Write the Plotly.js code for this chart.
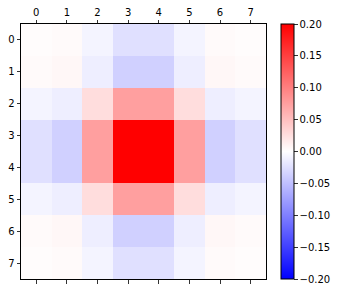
<!DOCTYPE html>
<html>
<head>
<meta charset="utf-8">
<script src="https://cdn.plot.ly/plotly-3.0.1.min.js"></script>
<style>html,body{margin:0;padding:0;background:#fff;}#chart{width:344px;height:293px;}</style>
</head>
<body>
<div id="chart"></div>
<script>
var xLabels = [0, 1, 2, 3, 4, 5, 6, 7];
var yLabels = [0, 1, 2, 3, 4, 5, 6, 7];
var row0 = [0.002, 0.004, -0.009, -0.024, -0.024, -0.009, 0.004, 0.002];
var row1 = [0.004, 0.006, -0.013, -0.037, -0.037, -0.013, 0.006, 0.004];
var row2 = [-0.009, -0.013, 0.027, 0.075, 0.075, 0.027, -0.013, -0.009];
var row3 = [-0.024, -0.037, 0.075, 0.21, 0.21, 0.075, -0.037, -0.024];
var row4 = [-0.024, -0.037, 0.075, 0.21, 0.21, 0.075, -0.037, -0.024];
var row5 = [-0.009, -0.013, 0.027, 0.075, 0.075, 0.027, -0.013, -0.009];
var row6 = [0.004, 0.006, -0.013, -0.037, -0.037, -0.013, 0.006, 0.004];
var row7 = [0.002, 0.004, -0.009, -0.024, -0.024, -0.009, 0.004, 0.002];
var zValues = [row0, row1, row2, row3, row4, row5, row6, row7];
var cbTicks = [-0.2, -0.15, -0.1, -0.05, 0, 0.05, 0.1, 0.15, 0.2];

var font = {family: 'DejaVu Sans', size: 10, color: '#000'};
var trace = {
  type: 'heatmap',
  x: xLabels,
  y: yLabels,
  z: zValues,
  zmin: -0.2,
  zmax: 0.2,
  colorscale: [[0, 'rgb(0,0,255)'], [0.5, 'rgb(255,255,255)'], [1, 'rgb(255,0,0)']],
  hoverinfo: 'none',
  colorbar: {
    x: 1.063, xanchor: 'left', xpad: 0,
    y: 0.5, yanchor: 'middle', ypad: 0,
    len: 1, lenmode: 'fraction',
    thickness: 13, thicknessmode: 'pixels',
    outlinewidth: 1, outlinecolor: '#000',
    tickmode: 'array', tickvals: cbTicks,
    tickformat: '.2f',
    ticks: 'outside', ticklen: 3.5, tickwidth: 0.8, tickcolor: '#000',
    tickfont: font
  }
};
var layout = {
  width: 344, height: 293,
  margin: {l: 21, r: 68, t: 24, b: 14, pad: 0},
  paper_bgcolor: '#fff', plot_bgcolor: '#fff',
  font: font,
  xaxis: {
    side: 'top', range: [-0.5, 7.5], tickmode: 'array', tickvals: xLabels,
    ticks: 'outside', ticklen: 3.5, tickwidth: 0.8, tickcolor: '#000',
    showline: true, linecolor: '#000', linewidth: 1, mirror: 'ticks',
    showgrid: false, zeroline: false, tickfont: font
  },
  yaxis: {
    range: [7.5, -0.5], tickmode: 'array', tickvals: yLabels,
    ticks: 'outside', ticklen: 3.5, tickwidth: 0.8, tickcolor: '#000',
    showline: true, linecolor: '#000', linewidth: 1, mirror: true,
    showgrid: false, zeroline: false, tickfont: font
  }
};
Plotly.newPlot('chart', [trace], layout, {staticPlot: true, displayModeBar: false});
</script>
</body>
</html>
